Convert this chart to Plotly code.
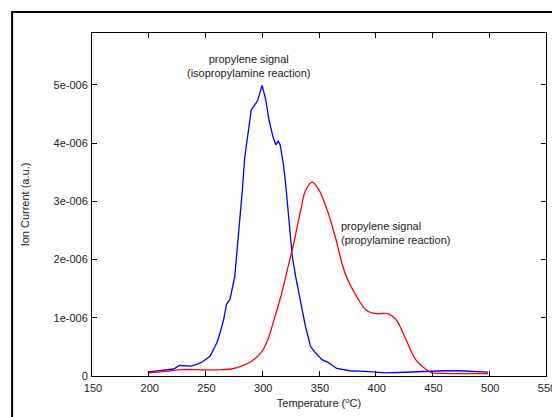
import plotly.graph_objects as go

# Blue: propylene signal (isopropylamine reaction)
iso_temp = [200, 210, 222, 227, 232, 237, 242, 247, 254, 260, 263, 266, 268.5, 271.5, 275.8, 278.7, 280.2,
            282.5, 284.5, 287.4, 290.3, 294.6, 296.1, 299.8, 302.8, 306.2, 309.7, 312, 314, 315.8, 318.7,
            320.7, 322.8, 326.5, 329.4, 333.8, 338.1, 342.5, 346.8, 352.6, 358.4, 365.6, 377.2, 390,
            400.4, 409, 420, 432, 443.9, 460, 472.6, 485, 499]
iso_signal = [0.07, 0.09, 0.12, 0.18, 0.17, 0.17, 0.2, 0.24, 0.34, 0.57, 0.75, 0.97, 1.23, 1.31, 1.71, 2.34, 2.65,
              3.2, 3.74, 4.2, 4.57, 4.69, 4.74, 4.99, 4.77, 4.37, 4.09, 3.97, 4.03, 3.97, 3.63,
              3.28, 2.8, 2.05, 1.71, 1.26, 0.85, 0.51, 0.40, 0.28, 0.23, 0.13, 0.09, 0.08,
              0.07, 0.055, 0.06, 0.07, 0.08, 0.09, 0.09, 0.08, 0.065]

# Red: propylene signal (propylamine reaction)
pro_temp = [200, 215, 229.4, 249.7, 265, 272.9, 281.6, 290.3, 299, 304.8, 310.6, 316.4, 322.2, 328, 333.8,
            338.1, 344, 349.8, 357, 364.2, 372.9, 383, 391.7, 400.4, 410.6, 417.8, 426.5, 435.2, 443.9,
            449.6, 460, 480, 499]
pro_signal = [0.055, 0.08, 0.11, 0.105, 0.11, 0.12, 0.17, 0.25, 0.40, 0.62, 0.98, 1.37, 1.83, 2.30, 2.84,
              3.18, 3.33, 3.2, 2.86, 2.40, 1.77, 1.37, 1.13, 1.07, 1.07, 0.97, 0.63, 0.28, 0.12,
              0.055, 0.045, 0.04, 0.04]

y_tickvals = [0, 1, 2, 3, 4, 5]
y_ticktext = ["0", "1e-006", "2e-006", "3e-006", "4e-006", "5e-006"]
x_tickvals = [150, 200, 250, 300, 350, 400, 450, 500, 550]

scale = 1e-6

fig = go.Figure()
fig.add_trace(go.Scatter(x=iso_temp, y=[v * scale for v in iso_signal], mode="lines",
                         line=dict(color="#0000ff", width=1.3), showlegend=False))
fig.add_trace(go.Scatter(x=pro_temp, y=[v * scale for v in pro_signal], mode="lines",
                         line=dict(color="#ff0000", width=1.3, shape="spline", smoothing=1.0),
                         showlegend=False))

font = dict(family="Liberation Sans, Arial, sans-serif", size=11, color="#222222")

fig.update_layout(
    width=560, height=417,
    margin=dict(l=84, r=13, t=25, b=49),
    paper_bgcolor="white", plot_bgcolor="white",
    font=font,
    xaxis=dict(range=[150, 550], tickvals=x_tickvals, ticks="inside", ticklen=5, tickcolor="black",
               showline=True, linecolor="black", linewidth=1, mirror="ticks", showgrid=False,
               zeroline=False, tickfont=font, ticklabelshift=1, ticklabelstandoff=2,
               title=dict(text="Temperature (<sup>o</sup>C)", font=font, standoff=6)),
    yaxis=dict(range=[0, 5.89e-6], tickvals=[v * scale for v in y_tickvals], ticktext=y_ticktext,
               ticks="inside", ticklen=5, tickcolor="black",
               showline=True, linecolor="black", linewidth=1, mirror="ticks", showgrid=False,
               zeroline=False, tickfont=font, ticklabelstandoff=1,
               title=dict(text="Ion Current (a.u.)", font=font, standoff=21)),
    annotations=[
        dict(x=288, y=5.32e-6, xref="x", yref="y", text="propylene signal<br>(isopropylamine reaction)",
             showarrow=False, font=font, align="center", xanchor="center", yanchor="middle"),
        dict(x=367.5, y=2.45e-6, xref="x", yref="y", text="propylene signal<br>(propylamine reaction)",
             showarrow=False, font=font, align="left", xanchor="left", yanchor="middle"),
    ],
    shapes=[
        dict(type="rect", xref="paper", yref="paper", x0=-0.176, x1=1.2, y0=-0.3, y1=1.061,
             line=dict(color="black", width=2), layer="below"),
    ],
)

fig.write_html("out.html")
